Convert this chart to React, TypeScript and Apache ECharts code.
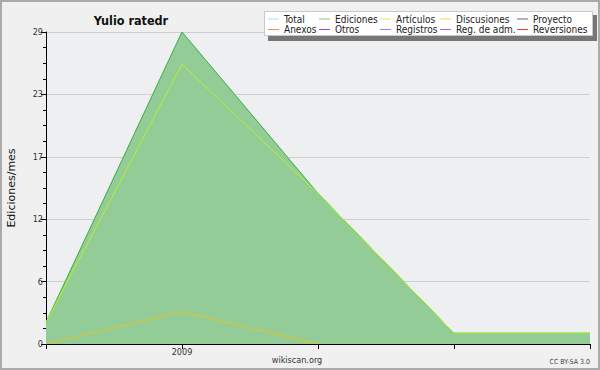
import React, { useEffect, useRef } from "react";
import * as echarts from "echarts";

const categories = ["2008-12", "2009-01", "2009-02", "2009-03", "2009-04"];
const xLabels = ["", "2009", "", "", ""];
const total = [2, 29, 14, 1, 1];
const ediciones = [2, 29, 14, 1, 1];
const articulos = [2, 26, 14, 1, 1];
const discusiones = [0, 3, 0, null, null];
const empty: (number | null)[] = [];

const seriesNames = ["Total", "Ediciones", "Artículos", "Discusiones", "Proyecto", "Anexos", "Otros", "Registros", "Reg. de adm.", "Reversiones"];
const legendColors = ["#a6e3dc", "#86c886", "#c8ee5a", "#f8d068", "#6a6a6a", "#f08a50", "#8a48e0", "#8484f2", "#d050e0", "#e84040"];
const legendColumns = [["Total", "Anexos"], ["Ediciones", "Otros"], ["Artículos", "Registros"], ["Discusiones", "Reg. de adm."], ["Proyecto", "Reversiones"]];
const legendLefts = [268, 319, 380, 440, 517];
const yTickLabels = ["0", "6", "12", "17", "23", "29"];

const FONT = "'DejaVu Sans Condensed', 'DejaVu Sans', sans-serif";
const FONT_WIDE = "'DejaVu Sans', sans-serif";

export default function App() {
  const ref = useRef<HTMLDivElement>(null);
  useEffect(() => {
    if (!ref.current) return;
    const chart = echarts.init(ref.current, undefined, { renderer: "svg" });
    const dataMap: Record<string, (number | null)[]> = {
      Total: total,
      Ediciones: ediciones,
      "Artículos": articulos,
      Discusiones: discusiones,
    };
    const lineColors: Record<string, string> = {
      Total: "#a6e3dc",
      Ediciones: "#3fae42",
      "Artículos": "#b6f02a",
      Discusiones: "#ecc020",
    };
    const series: any[] = seriesNames.map((name, i) => {
      const s: any = {
        name,
        type: "line",
        data: dataMap[name] || empty,
        color: legendColors[i],
        symbol: "none",
        showSymbol: false,
        lineStyle: { width: 1, color: lineColors[name] || legendColors[i] },
        z: 3 + i,
      };
      if (name === "Total") s.z = 1;
      if (name === "Ediciones") {
        s.areaStyle = { color: "#94cc98", opacity: 1 };
        s.z = 2;
      }
      return s;
    });
    chart.setOption({
      animation: false,
      backgroundColor: "#f0f0f0",
      textStyle: { fontFamily: FONT },
      title: {
        text: "Yulio ratedr",
        left: 126,
        top: 9,
        textAlign: "center",
        textStyle: { fontSize: 12.5, fontWeight: "bold", color: "#111", fontFamily: FONT },
      },
      legend: legendColumns.map((col, i) => ({
        data: col,
        orient: "vertical",
        left: legendLefts[i],
        top: 14,
        padding: 0,
        itemGap: 0.5,
        itemWidth: 11,
        itemHeight: 1,
        icon: "rect",
        selectedMode: false,
        z: 20,
        textStyle: { fontSize: 10, color: "#222", lineHeight: 10, fontFamily: FONT },
      })),
      grid: {
        left: 46,
        right: 10,
        top: 32,
        bottom: 26,
        show: true,
        backgroundColor: "#eeeff1",
        borderWidth: 0,
        outerBoundsMode: "none",
        containLabel: false,
      },
      xAxis: {
        type: "category",
        data: categories,
        boundaryGap: false,
        axisLine: { lineStyle: { color: "#000", width: 1 } },
        axisTick: { show: true, length: 5, lineStyle: { color: "#000" }, interval: 0 },
        axisLabel: {
          interval: 0,
          fontSize: 9,
          color: "#333",
          margin: 3,
          fontFamily: FONT,
          formatter: (_v: string, idx: number) => xLabels[idx],
        },
        splitLine: { show: false },
      },
      yAxis: {
        type: "value",
        min: 0,
        max: 29,
        interval: 5.8,
        name: "Ediciones/mes",
        nameLocation: "middle",
        nameGap: 29,
        nameTextStyle: { fontSize: 11, color: "#111", fontFamily: FONT_WIDE },
        axisLine: { show: true, lineStyle: { color: "#000", width: 1 } },
        axisTick: { show: true, length: 5, lineStyle: { color: "#000" } },
        minorTick: { show: true, splitNumber: 4, length: 3, lineStyle: { color: "#000" } },
        axisLabel: {
          fontSize: 9,
          color: "#333",
          margin: 3,
          fontFamily: FONT,
          formatter: (v: number) => yTickLabels[Math.round(v / 5.8)] ?? "",
        },
        splitLine: { show: true, lineStyle: { color: "#cfcfd2", width: 1 } },
      },
      graphic: [
        {
          type: "rect",
          shape: { x: 1, y: 1, width: 598, height: 368 },
          style: { fill: "none", stroke: "#ababab", lineWidth: 2 },
          z: 100,
          silent: true,
        },
        {
          type: "rect",
          shape: { x: 268, y: 15, width: 329, height: 26 },
          style: { fill: "#777777" },
          z: 1,
          silent: true,
        },
        {
          type: "rect",
          shape: { x: 264.5, y: 11.5, width: 328, height: 24 },
          style: { fill: "#ffffff", stroke: "#c8c8c8", lineWidth: 1 },
          z: 2,
          silent: true,
        },
        {
          type: "text",
          x: 297,
          y: 355,
          style: { text: "wikiscan.org", fontSize: 9, fill: "#333", fontFamily: FONT, align: "center" },
          z: 10,
        },
        {
          type: "text",
          x: 590,
          y: 358,
          style: { text: "CC BY-SA 3.0", fontSize: 7, fill: "#444", fontFamily: FONT, align: "right" },
          z: 10,
        },
      ],
      series,
    });
    return () => chart.dispose();
  }, []);
  return (
    <div
      ref={ref}
      style={{ width: 600, height: 370, position: "absolute", left: 0, top: 0 }}
    />
  );
}
